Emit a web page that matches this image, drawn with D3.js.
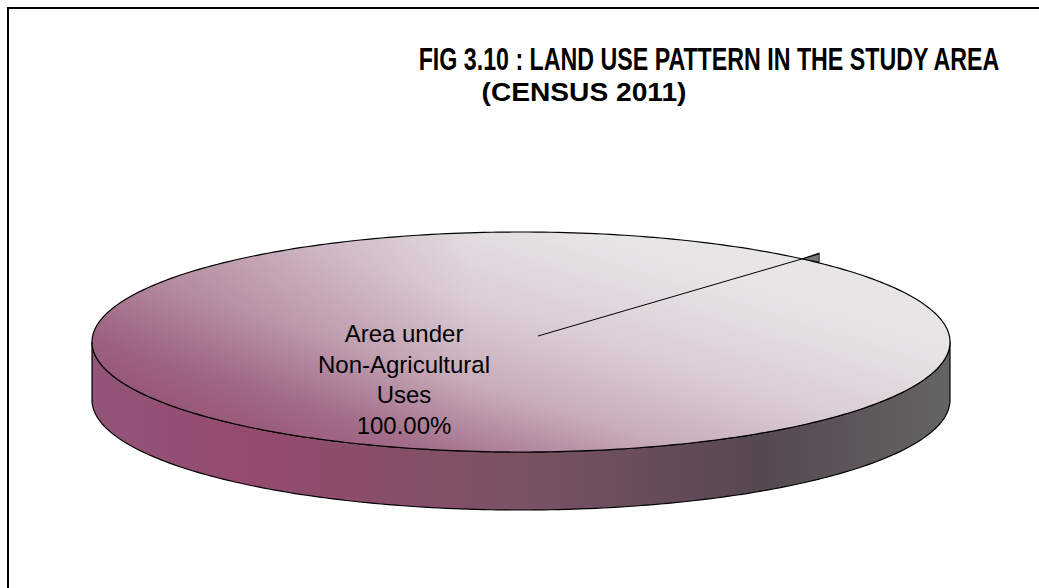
<!DOCTYPE html>
<html>
<head>
<meta charset="utf-8">
<script src="https://cdn.jsdelivr.net/npm/d3@7"></script>
<style>
  html, body { margin: 0; padding: 0; background: #fff; }
  svg { display: block; }
</style>
</head>
<body>
<svg id="chart" width="1039" height="588"></svg>
<script>
// Land use categories and their share of the study area (%)
const categories = ["Area under Non-Agricultural Uses"];
const values = [100];
const labelLines = [["Area under", "Non-Agricultural", "Uses", "100.00%"]];
const titleText = "FIG 3.10 : LAND USE PATTERN IN THE STUDY AREA";
const subtitleText = "(CENSUS 2011)";

const W = 1039, H = 588;
const svg = d3.select("#chart");

// Frame around the chart area (runs off the right and bottom edges)
svg.append("rect")
  .attr("x", 8).attr("y", 8)
  .attr("width", W + 20).attr("height", H + 20)
  .attr("fill", "#fff").attr("stroke", "#000").attr("stroke-width", 2);

// Titles: bold face condensed horizontally so each line spans its target width
const titleFont = "'Liberation Sans', Arial, sans-serif";
function condensedTitle(text, cxPos, baseline, targetWidth, size) {
  const g = svg.append("g");
  const t = g.append("text")
    .attr("x", 0).attr("y", 0)
    .attr("text-anchor", "middle")
    .attr("font-family", titleFont)
    .attr("font-weight", "bold").attr("font-size", size)
    .text(text);
  const w = t.node().getComputedTextLength();
  const sx = w > 0 ? targetWidth / w : 1;
  g.attr("transform", `translate(${cxPos},${baseline}) scale(${sx},1)`);
  return g;
}
condensedTitle(titleText, 709, 70, 581, 32);
condensedTitle(subtitleText, 584, 101, 205, 26);

// Tilted pie geometry
const cx = 521, cy = 342, rx = 429, ry = 110, depth = 58;
const rotation = 43 * Math.PI / 180; // first slice angle

// Angle (clockwise from 12 o'clock) -> point on the tilted disc
const project = (a, dz = 0) => [cx + rx * Math.sin(a), cy - ry * Math.cos(a) + dz];

const pie = d3.pie().sort(null).startAngle(rotation).endAngle(rotation + 2 * Math.PI);
const arcs = pie(values);

const defs = svg.append("defs");
const topGrad = defs.append("linearGradient")
  .attr("id", "topFill").attr("gradientUnits", "userSpaceOnUse")
  .attr("x1", 150).attr("y1", 447).attr("x2", 252).attr("y2", 124);
[["0%", "#93496f"], ["25%", "#a6728e"], ["47%", "#c8adbb"], ["70%", "#dbcdd4"], ["100%", "#e8e5e7"]]
  .forEach(([o, c]) => topGrad.append("stop").attr("offset", o).attr("stop-color", c));

// Extra shading that deepens the colour toward the left rim
const leftShade = defs.append("linearGradient")
  .attr("id", "leftShade").attr("gradientUnits", "userSpaceOnUse")
  .attr("x1", cx - rx).attr("y1", 0).attr("x2", 470).attr("y2", 0);
leftShade.append("stop").attr("offset", "0%").attr("stop-color", "#8f4a70").attr("stop-opacity", 0.45);
leftShade.append("stop").attr("offset", "100%").attr("stop-color", "#8f4a70").attr("stop-opacity", 0);

const sideGrad = defs.append("linearGradient")
  .attr("id", "sideFill").attr("gradientUnits", "userSpaceOnUse")
  .attr("x1", cx - rx).attr("y1", 0).attr("x2", cx + rx).attr("y2", 0);
[["0%", "#915578"], ["18%", "#964a70"], ["50%", "#7a5264"], ["78%", "#564850"], ["100%", "#646464"]]
  .forEach(([o, c]) => sideGrad.append("stop").attr("offset", o).attr("stop-color", c));

// Outer wall: front half of the cylinder
const ellipseArc = (a0, a1, dz, steps = 180) => {
  const pts = [];
  for (let i = 0; i <= steps; i++) pts.push(project(a0 + (a1 - a0) * i / steps, dz));
  return pts;
};
arcs.forEach(d => {
  const front0 = Math.PI / 2, front1 = 3 * Math.PI / 2;
  const topEdge = ellipseArc(front0, front1, 0);
  const botEdge = ellipseArc(front1, front0, depth);
  svg.append("path")
    .attr("d", d3.line()(topEdge.concat(botEdge)) + "Z")
    .attr("fill", "url(#sideFill)")
    .attr("stroke", "#000").attr("stroke-width", 1.2).attr("stroke-linejoin", "round");
});

// Top face of each slice
arcs.forEach(d => {
  const full = d.endAngle - d.startAngle >= 2 * Math.PI - 1e-6;
  const rim = ellipseArc(d.startAngle, d.endAngle, 0, 360);
  const pathD = full ? d3.line()(rim) + "Z" : d3.line()([[cx, cy]].concat(rim)) + "Z";
  svg.append("path").attr("d", pathD).attr("fill", "url(#topFill)");
  svg.append("path").attr("d", pathD).attr("fill", "url(#leftShade)")
    .attr("stroke", "#000").attr("stroke-width", 1.2);
});

// Cut face of the slice showing at the seam
arcs.forEach(d => {
  const [px, py] = project(d.startAngle + 0.018);
  svg.append("path")
    .attr("d", d3.line()([[px - 17, py - 4], [px, py - 10], [px, py - 1]]) + "Z")
    .attr("fill", "#7a7a7a").attr("stroke", "#000").attr("stroke-width", 0.8);
});

// Data label with leader line
arcs.forEach((d, i) => {
  const [ex, ey] = project(d.startAngle + 0.018, -9);
  svg.append("line")
    .attr("x1", 538).attr("y1", 336).attr("x2", ex).attr("y2", ey)
    .attr("stroke", "#000").attr("stroke-width", 1);
  const t = svg.append("text")
    .attr("text-anchor", "middle")
    .attr("font-family", "'Liberation Sans', Arial, sans-serif")
    .attr("font-size", 24).attr("fill", "#000");
  labelLines[i].forEach((ln, k) => {
    t.append("tspan").attr("x", 404).attr("y", 342 + k * 30.5).text(ln);
  });
});
</script>
</body>
</html>
